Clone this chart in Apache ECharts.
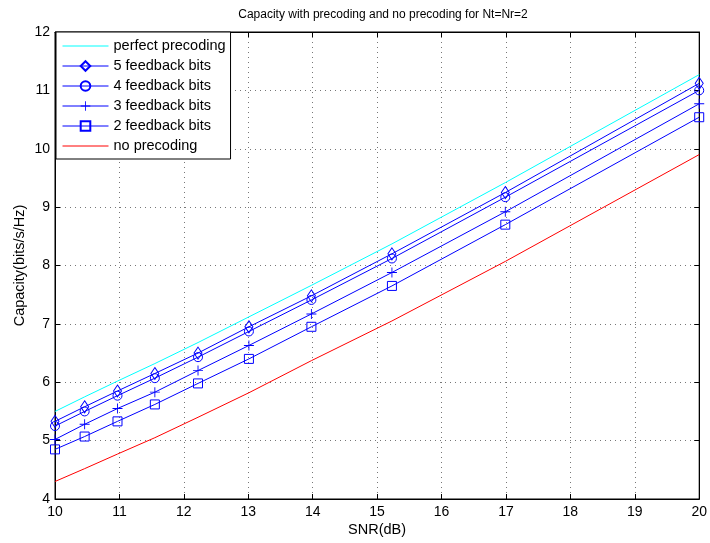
<!DOCTYPE html>
<html><head><meta charset="utf-8">
<script src="https://cdn.jsdelivr.net/npm/echarts@6/dist/echarts.min.js"></script>
<style>html,body{margin:0;padding:0;background:#fff}#c{width:710px;height:543px}</style>
</head><body><div id="c"></div>
<script>
const snr = [10, 10.46, 10.97, 11.55, 12.22, 13.01, 13.98, 15.23, 16.99, 20];
const perfect = [5.50, 5.75, 6.02, 6.32, 6.68, 7.12, 7.66, 8.37, 9.42, 11.27];
const fb5 = [5.33, 5.58, 5.85, 6.15, 6.50, 6.95, 7.48, 8.20, 9.25, 11.12];
const fb4 = [5.25, 5.50, 5.77, 6.07, 6.43, 6.87, 7.41, 8.12, 9.17, 11.00];
const fb3 = [5.02, 5.28, 5.55, 5.83, 6.20, 6.63, 7.17, 7.88, 8.92, 10.77];
const fb2 = [4.85, 5.07, 5.33, 5.62, 5.98, 6.40, 6.95, 7.65, 8.70, 10.54];
const nopre = [4.30, 4.52, 4.77, 5.05, 5.40, 5.82, 6.37, 7.05, 8.07, 9.90];
const names = ['perfect precoding','5 feedback bits','4 feedback bits','3 feedback bits','2 feedback bits','no precoding'];
const xTicks = [10,11,12,13,14,15,16,17,18,19,20];
const yTicks = [4,5,6,7,8,9,10,11,12];

const pair = ys => snr.map((x,i)=>[x,ys[i]]);
const plusPath = 'path://M-0.09,-1H0.09V-0.09H1V0.09H0.09V1H-0.09V0.09H-1V-0.09H-0.09Z';
const hollow = {color:'rgba(255,255,255,0)', borderColor:'#0000ff', borderWidth:1};
function ser(name, ys, color, symbol, size, style){
  return {name, type:'line', data:pair(ys), symbol: symbol||'none', symbolSize:size||6,
    showSymbol: !!symbol, lineStyle:{color, width:1}, itemStyle: style||{color}, animation:false, z:3};
}
const FF = 'Liberation Sans, Arial, sans-serif';
const axFont = {fontFamily:FF, fontSize:14, color:'#000'};
const legendData = names.map((n,i)=> (i===0||i===5) ? {name:n, itemStyle:{opacity:0}} : {name:n});
const chart = echarts.init(document.getElementById('c'));
chart.setOption({
  backgroundColor:'#fff',
  title:{text:'Capacity with precoding and no precoding for Nt=Nr=2', left:378, top:4, textAlign:'center',
    textStyle:{fontFamily:FF, fontSize:12, fontWeight:'normal', color:'#000'}},
  grid:{left:55, right:9, top:32, bottom:44, show:true, borderColor:'#000', borderWidth:1},
  legend:{orient:'vertical', left:56, top:32, itemWidth:46, itemHeight:12, itemGap:4,
    padding:[6,5,5,6], backgroundColor:'#fff', borderColor:'#000', borderWidth:1, borderRadius:0,
    lineStyle:{width:1},
    textStyle:{fontFamily:FF, fontSize:14.5, color:'#000', lineHeight:16}, data:legendData},
  xAxis:[{type:'value', min:10, max:20, interval:1, name:'SNR(dB)', nameLocation:'middle', nameGap:23, nameMoveOverlap:false,
    nameTextStyle:Object.assign({}, axFont, {fontSize:14.5}), axisLabel:Object.assign({margin:6},axFont),
    axisLine:{lineStyle:{color:'#000'}}, axisTick:{inside:true, length:5, lineStyle:{color:'#000'}},
    splitLine:{show:true, lineStyle:{color:'#777', type:[1,4]}}},
    {type:'value', min:10, max:20, interval:1, position:'top', axisLabel:{show:false},
    axisLine:{lineStyle:{color:'#000'}}, axisTick:{inside:true, length:5, lineStyle:{color:'#000'}}, splitLine:{show:false}}],
  yAxis:[{type:'value', min:4, max:12, interval:1, name:'Capacity(bits/s/Hz)', nameLocation:'middle', nameGap:28, nameMoveOverlap:false,
    nameTextStyle:Object.assign({}, axFont, {fontSize:14.5}), axisLabel:Object.assign({margin:5},axFont),
    axisLine:{show:true, lineStyle:{color:'#000'}}, axisTick:{show:true, inside:true, length:5, lineStyle:{color:'#000'}},
    splitLine:{show:true, lineStyle:{color:'#777', type:[1,4]}}},
    {type:'value', min:4, max:12, interval:1, position:'right', axisLabel:{show:false},
    axisLine:{show:true, lineStyle:{color:'#000'}}, axisTick:{show:true, inside:true, length:5, lineStyle:{color:'#000'}}, splitLine:{show:false}}],
  series:[
    ser(names[0], perfect, '#00ffff'),
    ser(names[1], fb5, '#0000ff', 'diamond', [8,12], hollow),
    ser(names[2], fb4, '#0000ff', 'circle', 9, hollow),
    ser(names[3], fb3, '#0000ff', plusPath, 10, {color:'#0000ff'}),
    ser(names[4], fb2, '#0000ff', 'rect', 9, hollow),
    ser(names[5], nopre, '#ff0000')
  ]
});
</script></body></html>
